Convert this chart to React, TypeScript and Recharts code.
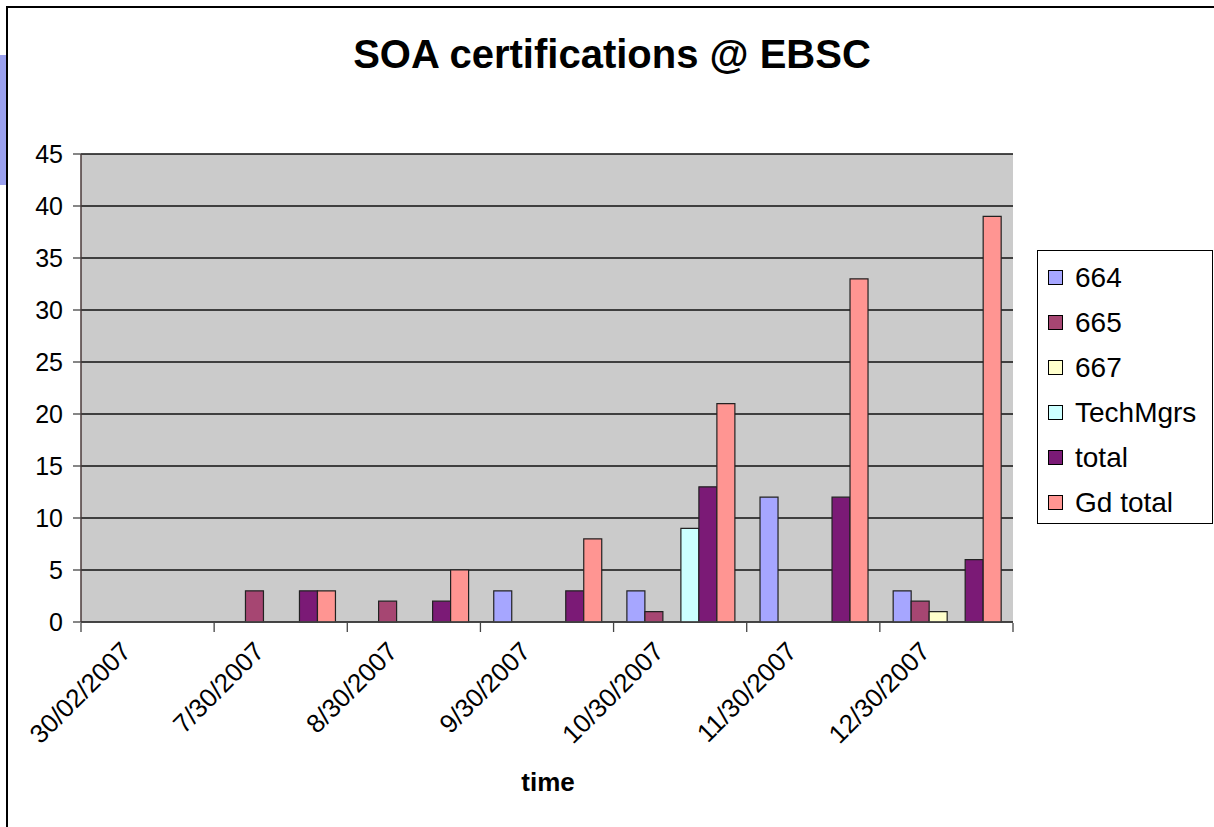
import React from 'react';
import { BarChart, Bar, XAxis, YAxis, CartesianGrid, Legend } from 'recharts';

const categories = ['30/02/2007', '7/30/2007', '8/30/2007', '9/30/2007', '10/30/2007', '11/30/2007', '12/30/2007'];
const s664 = [0, 0, 0, 3, 3, 12, 3];
const s665 = [0, 3, 2, 0, 1, 0, 2];
const s667 = [0, 0, 0, 0, 0, 0, 1];
const techMgrs = [0, 0, 0, 0, 9, 0, 0];
const total = [0, 3, 2, 3, 13, 12, 6];
const gdTotal = [0, 3, 5, 8, 21, 33, 39];
const yTicks = [0, 5, 10, 15, 20, 25, 30, 35, 40, 45];
const boundaryTicks = [0, 1, 2, 3, 4, 5, 6, 7];

const series = [
  { key: 'v664', name: '664', color: '#a6a6ff' },
  { key: 'v665', name: '665', color: '#a64672' },
  { key: 'v667', name: '667', color: '#ffffcc' },
  { key: 'tech', name: 'TechMgrs', color: '#ccffff' },
  { key: 'total', name: 'total', color: '#7b1a76' },
  { key: 'gd', name: 'Gd total', color: '#ff9592' },
];

const data = categories.map((date, i) => ({
  date,
  slot: i + 0.5,
  v664: s664[i],
  v665: s665[i],
  v667: s667[i],
  tech: techMgrs[i],
  total: total[i],
  gd: gdTotal[i],
}));

const FONT = '"Liberation Sans", Arial, sans-serif';
const order = series.map((s) => s.name);

const DateTick = ({ x, y, payload }: any) => (
  <g transform={`translate(${x - 15},${y + 23})`}>
    <text textAnchor="end" fontSize={26} fontFamily={FONT} fill="#000" transform="rotate(-45)">
      {payload.value}
    </text>
  </g>
);

const LegendBox = ({ payload }: any) => {
  const items = [...(payload || [])].sort((a: any, b: any) => order.indexOf(a.value) - order.indexOf(b.value));
  return (
    <div
      style={{
        width: 176,
        height: 274,
        boxSizing: 'border-box',
        border: '1px solid #000',
        background: '#fff',
        paddingTop: 4,
        fontFamily: FONT,
      }}
    >
      {items.map((p: any) => (
        <div key={p.value} style={{ height: 45, display: 'flex', alignItems: 'center' }}>
          <span
            style={{
              width: 15,
              height: 15,
              marginLeft: 10,
              marginRight: 12,
              background: p.color,
              border: '1px solid #000',
              boxSizing: 'border-box',
            }}
          />
          <span style={{ fontSize: 28, color: '#000' }}>{p.value}</span>
        </div>
      ))}
    </div>
  );
};

export default function App() {
  return (
    <div style={{ position: 'absolute', left: 0, top: 0, width: 1214, height: 827, overflow: 'hidden', background: '#fff', fontFamily: FONT }}>
      <div style={{ position: 'absolute', left: 0, top: 55, width: 6, height: 130, background: '#9aa0ee' }} />
      <div style={{ position: 'absolute', left: 6, top: 6, width: 1240, height: 860, border: '2px solid #000', background: '#fff' }} />
      <div style={{ position: 'absolute', left: 0, top: 32, width: 1224, textAlign: 'center', fontSize: 40, fontWeight: 'bold' }}>
        SOA certifications @ EBSC
      </div>
      <div style={{ position: 'absolute', left: 448, top: 767, width: 200, textAlign: 'center', fontSize: 26, fontWeight: 'bold' }}>
        time
      </div>
      <div style={{ position: 'absolute', left: 0, top: 0 }}>
        <BarChart
          width={1214}
          height={827}
          data={data}
          margin={{ top: 154, right: 201, bottom: 55, left: 0 }}
          barCategoryGap="10%"
          barGap={0}
        >
          <CartesianGrid vertical={false} stroke="#111" strokeWidth={1.3} fill="#cbcbcb" fillOpacity={1} />
          <XAxis
            xAxisId="cat"
            dataKey="date"
            height={1}
            interval={0}
            tick={<DateTick />}
            tickLine={false}
            axisLine={{ stroke: '#444', strokeWidth: 1.5 }}
          />
          <XAxis
            xAxisId="edges"
            dataKey="slot"
            type="number"
            domain={[0, 7]}
            ticks={boundaryTicks}
            allowDataOverflow
            height={149}
            axisLine={false}
            tickLine={{ stroke: '#444', strokeWidth: 1.3 }}
            tickSize={9}
            tickFormatter={() => ''}
          />
          <YAxis
            domain={[0, 45]}
            ticks={yTicks}
            width={81}
            interval={0}
            tickSize={8}
            tickMargin={10}
            tick={{ fontSize: 25, fill: '#000', fontFamily: FONT }}
            tickLine={{ stroke: '#444', strokeWidth: 1.3 }}
            axisLine={{ stroke: '#4a3a3a', strokeWidth: 1.5 }}
          />
          <YAxis
            yAxisId="edge"
            orientation="right"
            domain={[0, 45]}
            width={0}
            tick={false}
            tickLine={false}
            axisLine={{ stroke: '#888', strokeWidth: 1.5 }}
          />
          <Legend
            layout="vertical"
            align="center"
            verticalAlign="middle"
            content={<LegendBox />}
            wrapperStyle={{ position: 'absolute', left: 1037, top: 250, width: 176, height: 274 }}
          />
          {series.map((s) => (
            <Bar
              key={s.key}
              xAxisId="cat"
              dataKey={s.key}
              name={s.name}
              fill={s.color}
              stroke="#222"
              strokeWidth={1.2}
              isAnimationActive={false}
            />
          ))}
        </BarChart>
      </div>
    </div>
  );
}
